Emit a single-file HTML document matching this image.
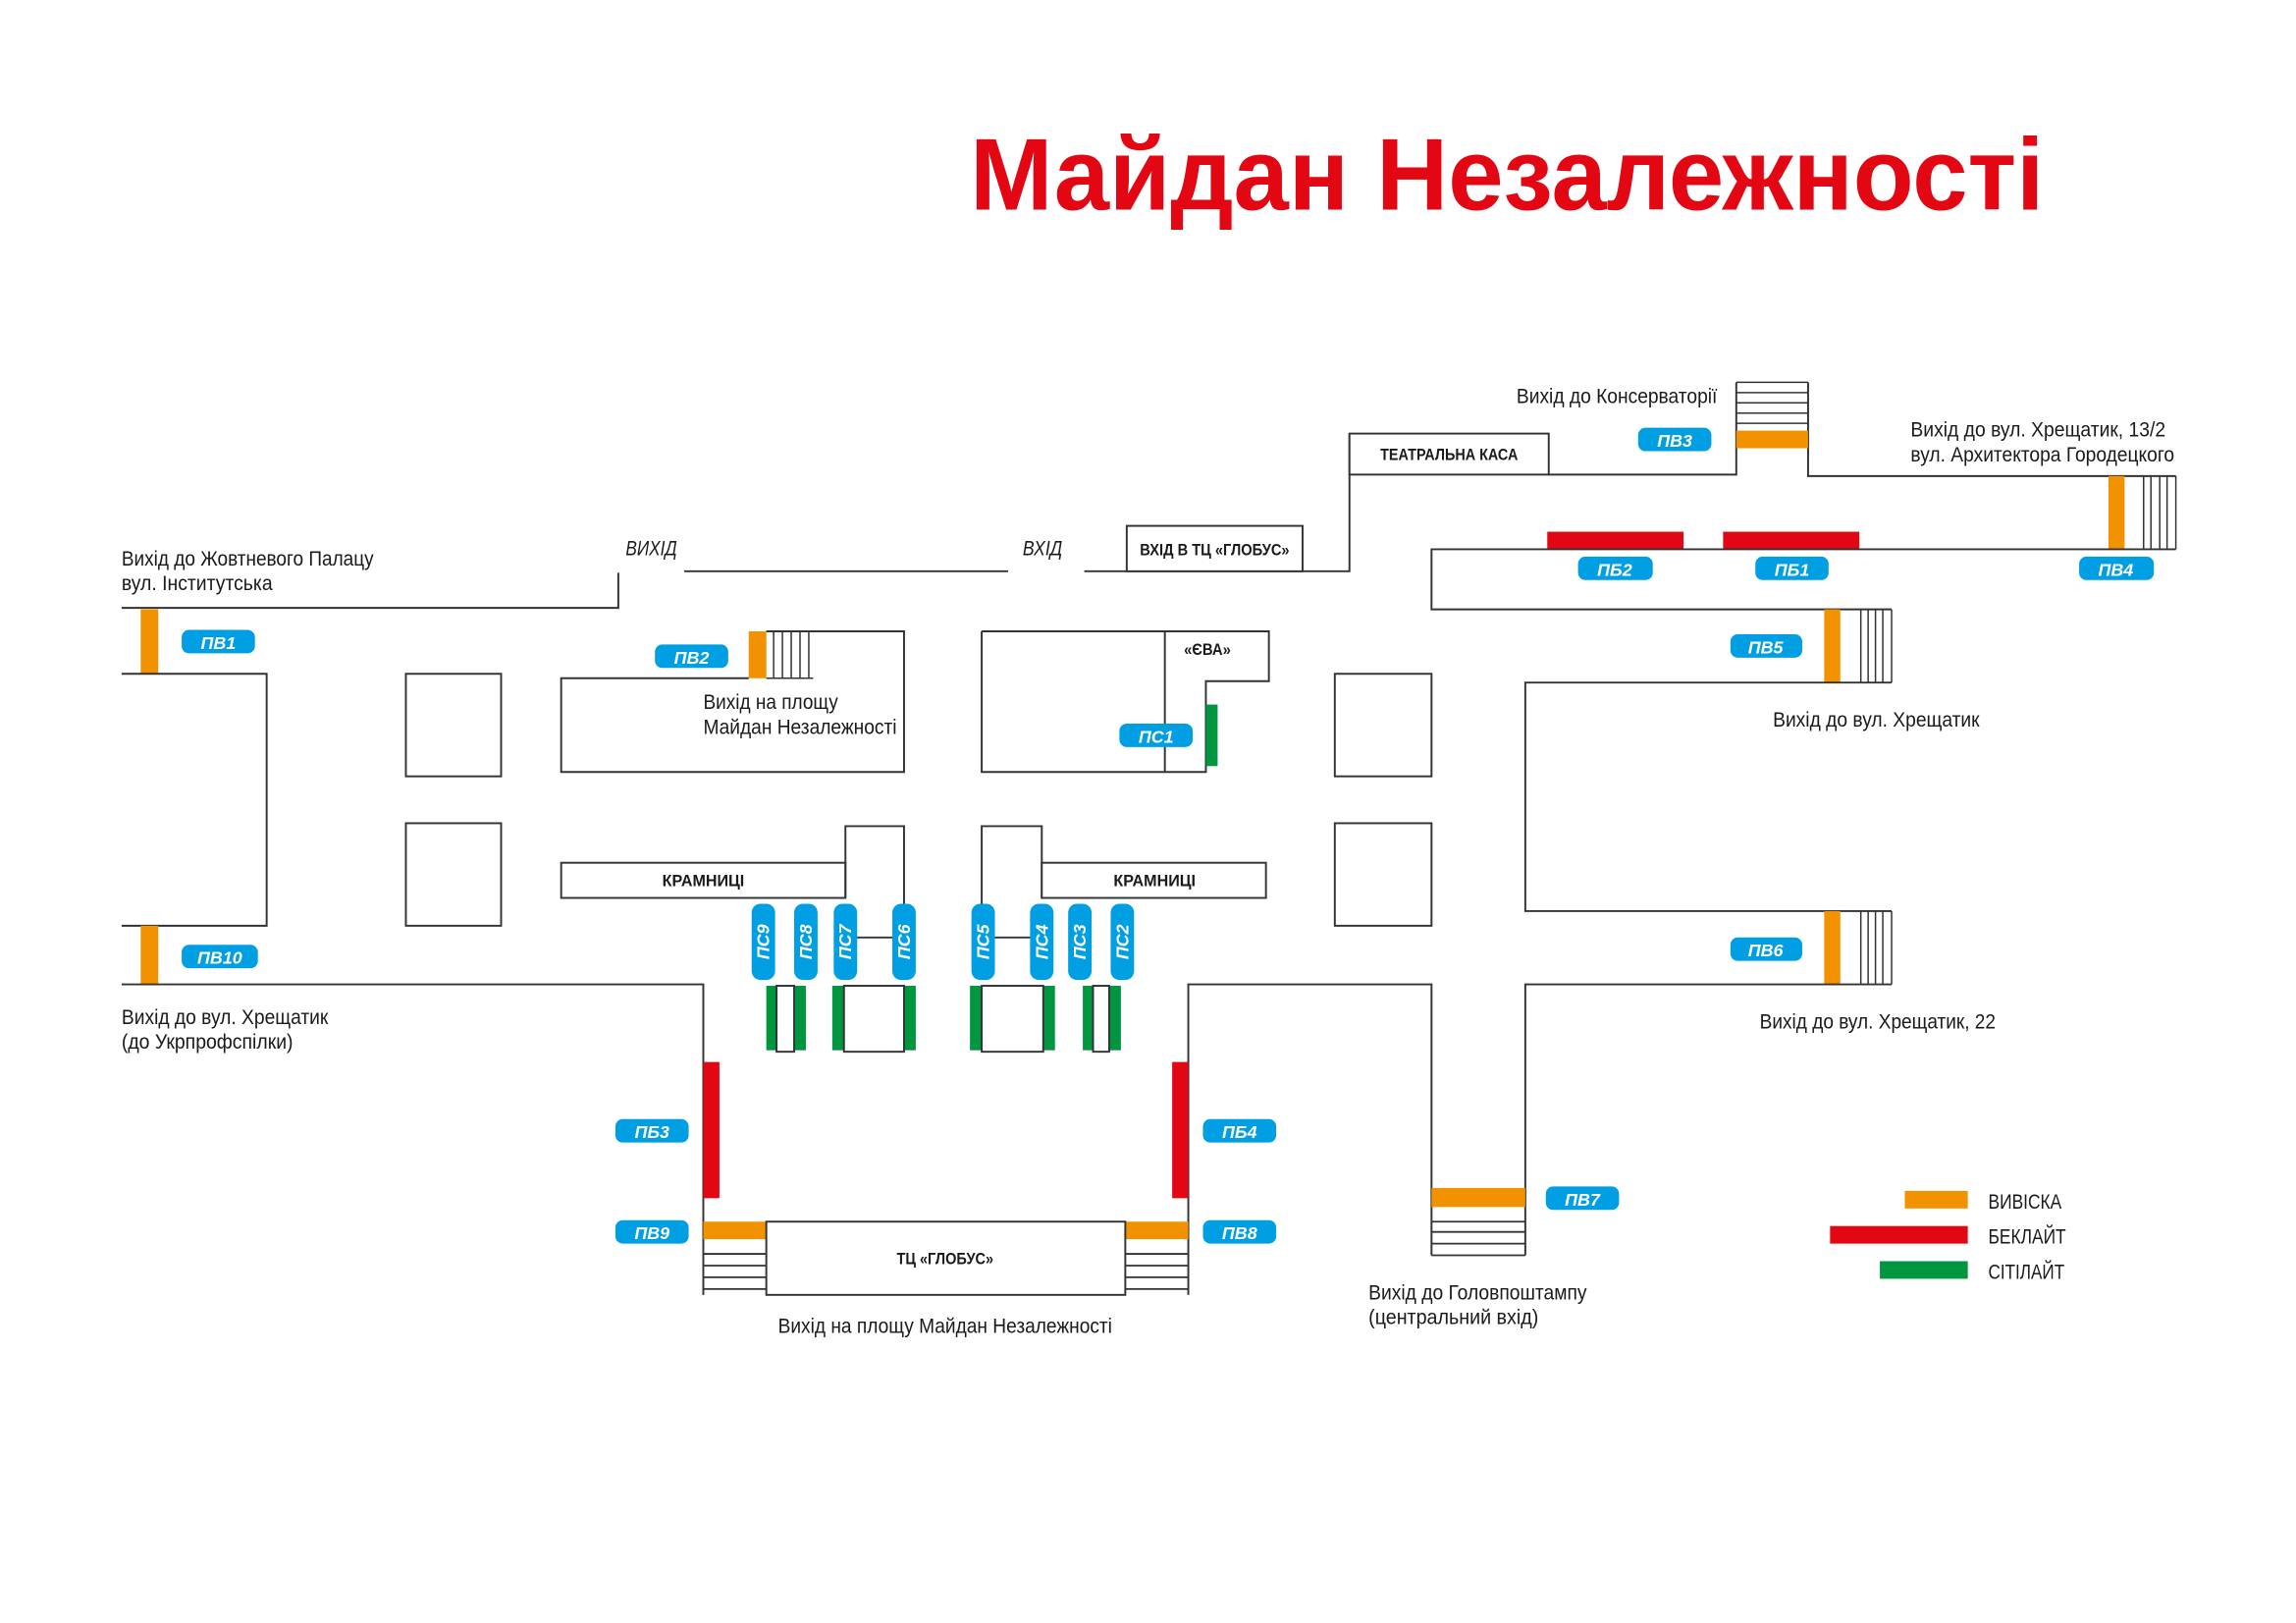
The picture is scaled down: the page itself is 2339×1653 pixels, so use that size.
<!DOCTYPE html>
<html><head><meta charset="utf-8">
<style>
html,body{margin:0;padding:0;background:#fff;}
svg{display:block;}
text{font-family:"Liberation Sans Narrow","Liberation Sans",sans-serif;fill:#1a1a1a;}
.l{font-size:14px;}
.b{font-size:11px;font-weight:bold;}
.bd{font-size:12px;font-weight:bold;font-style:italic;fill:#fff;}
.w{stroke:#333;stroke-width:1.3;fill:none;}
.bx{stroke:#333;stroke-width:1.3;fill:#fff;}
</style></head><body>
<svg width="2339" height="1653" viewBox="0 0 1567 1108" preserveAspectRatio="none" xmlns="http://www.w3.org/2000/svg">
<rect width="1567" height="1108" fill="#fff"/>
<text x="662" y="143" font-size="70" font-weight="bold" style="fill:#e30613;font-family:'Liberation Sans',sans-serif" textLength="733" lengthAdjust="spacingAndGlyphs">Майдан Незалежності</text>

<polyline class="w" points="83,415 422,415 422,391"/>
<text class="l" x="83" y="386" textLength="172" lengthAdjust="spacingAndGlyphs">Вихід до Жовтневого Палацу</text>
<text class="l" x="83" y="403" textLength="103" lengthAdjust="spacingAndGlyphs">вул. Інститутська</text>
<text class="l" x="427" y="379" font-style="italic" textLength="35" lengthAdjust="spacingAndGlyphs">ВИХІД</text>
<line class="w" x1="467" y1="390" x2="688" y2="390"/>
<text class="l" x="698" y="379" font-style="italic" textLength="27" lengthAdjust="spacingAndGlyphs">ВХІД</text>
<polyline class="w" points="740,390 921,390 921,296"/>
<rect class="bx" x="769" y="359" width="120" height="31"/>
<text class="b" x="829" y="379" text-anchor="middle" textLength="102" lengthAdjust="spacingAndGlyphs">ВХІД В ТЦ «ГЛОБУС»</text>
<rect class="bx" x="921" y="296" width="136" height="28"/>
<text class="b" x="989" y="314" text-anchor="middle" textLength="94" lengthAdjust="spacingAndGlyphs">ТЕАТРАЛЬНА КАСА</text>
<polyline class="w" points="1057,324 1185,324 1185,261"/>
<polyline class="w" points="1234,261 1234,325 1485,325"/>
<g stroke="#333" stroke-width="1"><line x1="1185" y1="261" x2="1234" y2="261"/><line x1="1185" y1="268" x2="1234" y2="268"/><line x1="1185" y1="275" x2="1234" y2="275"/><line x1="1185" y1="282" x2="1234" y2="282"/><line x1="1185" y1="289" x2="1234" y2="289"/></g>
<rect x="1185" y="294" width="49" height="12" fill="#f39200"/>
<text class="l" x="1172" y="275" text-anchor="end" textLength="137" lengthAdjust="spacingAndGlyphs">Вихід до Консерваторії</text>
<text class="l" x="1304" y="298" textLength="174" lengthAdjust="spacingAndGlyphs">Вихід до вул. Хрещатик, 13/2</text>
<text class="l" x="1304" y="315" textLength="180" lengthAdjust="spacingAndGlyphs">вул. Архитектора Городецкого</text>

<rect x="1439" y="325" width="11" height="50" fill="#f39200"/>
<g stroke="#333" stroke-width="1"><line x1="1463" y1="325" x2="1463" y2="375"/><line x1="1468" y1="325" x2="1468" y2="375"/><line x1="1474" y1="325" x2="1474" y2="375"/><line x1="1479" y1="325" x2="1479" y2="375"/><line x1="1485" y1="325" x2="1485" y2="375"/></g>
<rect x="1056" y="363" width="93" height="12" fill="#e30613"/>
<rect x="1176" y="363" width="93" height="12" fill="#e30613"/>
<polyline class="w" points="1485,375 977,375 977,416 1291,416"/>

<rect x="1245" y="416" width="11" height="50" fill="#f39200"/>
<g stroke="#333" stroke-width="1"><line x1="1270" y1="416" x2="1270" y2="466"/><line x1="1275" y1="416" x2="1275" y2="466"/><line x1="1280" y1="416" x2="1280" y2="466"/><line x1="1285" y1="416" x2="1285" y2="466"/><line x1="1291" y1="416" x2="1291" y2="466"/></g>
<polyline class="w" points="1291,466 1041,466 1041,622 1291,622"/>
<text class="l" x="1210" y="496" textLength="141" lengthAdjust="spacingAndGlyphs">Вихід до вул. Хрещатик</text>
<rect x="1245" y="622" width="11" height="50" fill="#f39200"/>
<g stroke="#333" stroke-width="1"><line x1="1270" y1="622" x2="1270" y2="672"/><line x1="1275" y1="622" x2="1275" y2="672"/><line x1="1280" y1="622" x2="1280" y2="672"/><line x1="1285" y1="622" x2="1285" y2="672"/><line x1="1291" y1="622" x2="1291" y2="672"/></g>
<polyline class="w" points="1291,672 1041,672 1041,857"/>
<text class="l" x="1201" y="702" textLength="161" lengthAdjust="spacingAndGlyphs">Вихід до вул. Хрещатик, 22</text>
<polyline class="w" points="811,884 811,672 977,672 977,857"/>
<rect x="977" y="811" width="64" height="13" fill="#f39200"/>
<g stroke="#333" stroke-width="1.2"><line x1="977" y1="834" x2="1041" y2="834"/><line x1="977" y1="841" x2="1041" y2="841"/><line x1="977" y1="849" x2="1041" y2="849"/><line x1="977" y1="857" x2="1041" y2="857"/></g>
<text class="l" x="934" y="887" textLength="149" lengthAdjust="spacingAndGlyphs">Вихід до Головпоштампу</text>
<text class="l" x="934" y="904" textLength="116" lengthAdjust="spacingAndGlyphs">(центральний вхід)</text>

<rect class="bx" x="911" y="460" width="66" height="70"/>
<rect class="bx" x="911" y="562" width="66" height="70"/>
<rect class="bx" x="277" y="460" width="65" height="70"/>
<rect class="bx" x="277" y="562" width="65" height="70"/>

<rect x="96" y="416" width="12" height="44" fill="#f39200"/>
<polyline class="w" points="83,460 182,460 182,632 83,632"/>
<rect x="96" y="632" width="12" height="40" fill="#f39200"/>
<polyline class="w" points="83,672 480,672 480,884"/>
<text class="l" x="83" y="699" textLength="141" lengthAdjust="spacingAndGlyphs">Вихід до вул. Хрещатик</text>
<text class="l" x="83" y="716" textLength="117" lengthAdjust="spacingAndGlyphs">(до Укрпрофспілки)</text>

<polyline class="w" points="511,463 383,463 383,527 617,527 617,431 523,431"/>
<rect x="511" y="431" width="12" height="32" fill="#f39200"/>
<g stroke="#333" stroke-width="1"><line x1="528" y1="431" x2="528" y2="463"/><line x1="534" y1="431" x2="534" y2="463"/><line x1="540" y1="431" x2="540" y2="463"/><line x1="546" y1="431" x2="546" y2="463"/><line x1="552" y1="431" x2="552" y2="463"/><line x1="523" y1="463" x2="555" y2="463"/><line x1="523" y1="431" x2="555" y2="431"/></g>
<text class="l" x="480" y="484" textLength="92" lengthAdjust="spacingAndGlyphs">Вихід на площу</text>
<text class="l" x="480" y="501" textLength="132" lengthAdjust="spacingAndGlyphs">Майдан Незалежності</text>

<polyline class="w" points="670,431 866,431 866,465 823,465 823,527 670,527 670,431"/>
<line class="w" x1="795" y1="431" x2="795" y2="527"/>
<rect x="823" y="481" width="8" height="42" fill="#009640"/>
<text class="b" x="808" y="447" textLength="32" lengthAdjust="spacingAndGlyphs">«ЄВА»</text>

<rect class="bx" x="383" y="589" width="194" height="24"/>
<text class="b" x="480" y="605" text-anchor="middle" textLength="56" lengthAdjust="spacingAndGlyphs">КРАМНИЦІ</text>
<polyline class="w" points="577,613 577,564 617,564 617,620"/>
<polyline class="w" points="670,620 670,564 711,564 711,613"/>
<rect class="bx" x="711" y="589" width="153" height="24"/>
<text class="b" x="788" y="605" text-anchor="middle" textLength="56" lengthAdjust="spacingAndGlyphs">КРАМНИЦІ</text>
<line class="w" x1="577" y1="640" x2="617" y2="640"/>
<line class="w" x1="671" y1="640" x2="711" y2="640"/>

<g fill="#009640">
<rect x="523" y="673" width="7" height="44"/><rect x="542" y="673" width="8" height="44"/>
<rect x="568" y="673" width="8" height="44"/><rect x="617" y="673" width="8" height="44"/>
<rect x="662" y="673" width="8" height="44"/><rect x="712" y="673" width="8" height="44"/>
<rect x="739" y="673" width="7" height="44"/><rect x="757" y="673" width="8" height="44"/>
</g>
<rect class="bx" x="530" y="673" width="12" height="45"/>
<rect class="bx" x="576" y="673" width="41" height="45"/>
<rect class="bx" x="670" y="673" width="42" height="45"/>
<rect class="bx" x="746" y="673" width="11" height="45"/>

<g fill="#009fe3">
<rect x="513" y="617" width="16" height="52" rx="6"/><rect x="542" y="617" width="16" height="52" rx="6"/>
<rect x="569" y="617" width="16" height="52" rx="6"/><rect x="609" y="617" width="16" height="52" rx="6"/>
<rect x="663" y="617" width="16" height="52" rx="6"/><rect x="703" y="617" width="16" height="52" rx="6"/>
<rect x="729" y="617" width="16" height="52" rx="6"/><rect x="758" y="617" width="16" height="52" rx="6"/>
</g>
<g class="bd">
<text class="bd" transform="translate(525,655) rotate(-90)">ПС9</text>
<text class="bd" transform="translate(554,655) rotate(-90)">ПС8</text>
<text class="bd" transform="translate(581,655) rotate(-90)">ПС7</text>
<text class="bd" transform="translate(621,655) rotate(-90)">ПС6</text>
<text class="bd" transform="translate(675,655) rotate(-90)">ПС5</text>
<text class="bd" transform="translate(715,655) rotate(-90)">ПС4</text>
<text class="bd" transform="translate(741,655) rotate(-90)">ПС3</text>
<text class="bd" transform="translate(770,655) rotate(-90)">ПС2</text>
</g>

<rect x="480" y="725" width="11" height="93" fill="#e30613"/>
<rect x="800" y="725" width="11" height="93" fill="#e30613"/>
<rect x="480" y="834" width="43" height="12" fill="#f39200"/>
<rect x="768" y="834" width="43" height="12" fill="#f39200"/>
<g stroke="#333" stroke-width="1.2">
<line x1="480" y1="856" x2="523" y2="856"/><line x1="480" y1="864" x2="523" y2="864"/><line x1="480" y1="872" x2="523" y2="872"/><line x1="480" y1="880" x2="523" y2="880"/>
<line x1="768" y1="856" x2="811" y2="856"/><line x1="768" y1="864" x2="811" y2="864"/><line x1="768" y1="872" x2="811" y2="872"/><line x1="768" y1="880" x2="811" y2="880"/>
</g>
<rect class="bx" x="523" y="834" width="245" height="50"/>
<text class="b" x="645" y="863" text-anchor="middle" textLength="66" lengthAdjust="spacingAndGlyphs">ТЦ «ГЛОБУС»</text>
<text class="l" x="645" y="910" text-anchor="middle" textLength="228" lengthAdjust="spacingAndGlyphs">Вихід на площу Майдан Незалежності</text>

<g fill="#009fe3">
<rect x="124" y="430" width="50" height="16" rx="5"/>
<rect x="124" y="645" width="52" height="16" rx="5"/>
<rect x="447" y="440" width="50" height="16" rx="5"/>
<rect x="764" y="494" width="50" height="16" rx="5"/>
<rect x="1118" y="292" width="50" height="16" rx="5"/>
<rect x="1077" y="380" width="51" height="16" rx="5"/>
<rect x="1198" y="380" width="50" height="16" rx="5"/>
<rect x="1419" y="380" width="51" height="16" rx="5"/>
<rect x="1181" y="433" width="49" height="16" rx="5"/>
<rect x="1181" y="640" width="49" height="16" rx="5"/>
<rect x="1055" y="810" width="50" height="16" rx="5"/>
<rect x="420" y="764" width="50" height="16" rx="5"/>
<rect x="821" y="764" width="50" height="16" rx="5"/>
<rect x="420" y="833" width="50" height="16" rx="5"/>
<rect x="821" y="833" width="50" height="16" rx="5"/>
</g>
<g text-anchor="middle">
<text class="bd" x="149" y="443">ПВ1</text>
<text class="bd" x="150" y="658">ПВ10</text>
<text class="bd" x="472" y="453">ПВ2</text>
<text class="bd" x="789" y="507">ПС1</text>
<text class="bd" x="1143" y="305">ПВ3</text>
<text class="bd" x="1102" y="393">ПБ2</text>
<text class="bd" x="1223" y="393">ПБ1</text>
<text class="bd" x="1444" y="393">ПВ4</text>
<text class="bd" x="1205" y="446">ПВ5</text>
<text class="bd" x="1205" y="653">ПВ6</text>
<text class="bd" x="1080" y="823">ПВ7</text>
<text class="bd" x="445" y="777">ПБ3</text>
<text class="bd" x="846" y="777">ПБ4</text>
<text class="bd" x="445" y="846">ПВ9</text>
<text class="bd" x="846" y="846">ПВ8</text>
</g>

<rect x="1300" y="813" width="43" height="12" fill="#f39200"/>
<text class="l" x="1357" y="825" textLength="50" lengthAdjust="spacingAndGlyphs">ВИВІСКА</text>
<rect x="1249" y="837" width="94" height="12" fill="#e30613"/>
<text class="l" x="1357" y="849" textLength="53" lengthAdjust="spacingAndGlyphs">БЕКЛАЙТ</text>
<rect x="1283" y="861" width="60" height="12" fill="#009640"/>
<text class="l" x="1357" y="873" textLength="52" lengthAdjust="spacingAndGlyphs">СІТІЛАЙТ</text>
</svg>
</body></html>
